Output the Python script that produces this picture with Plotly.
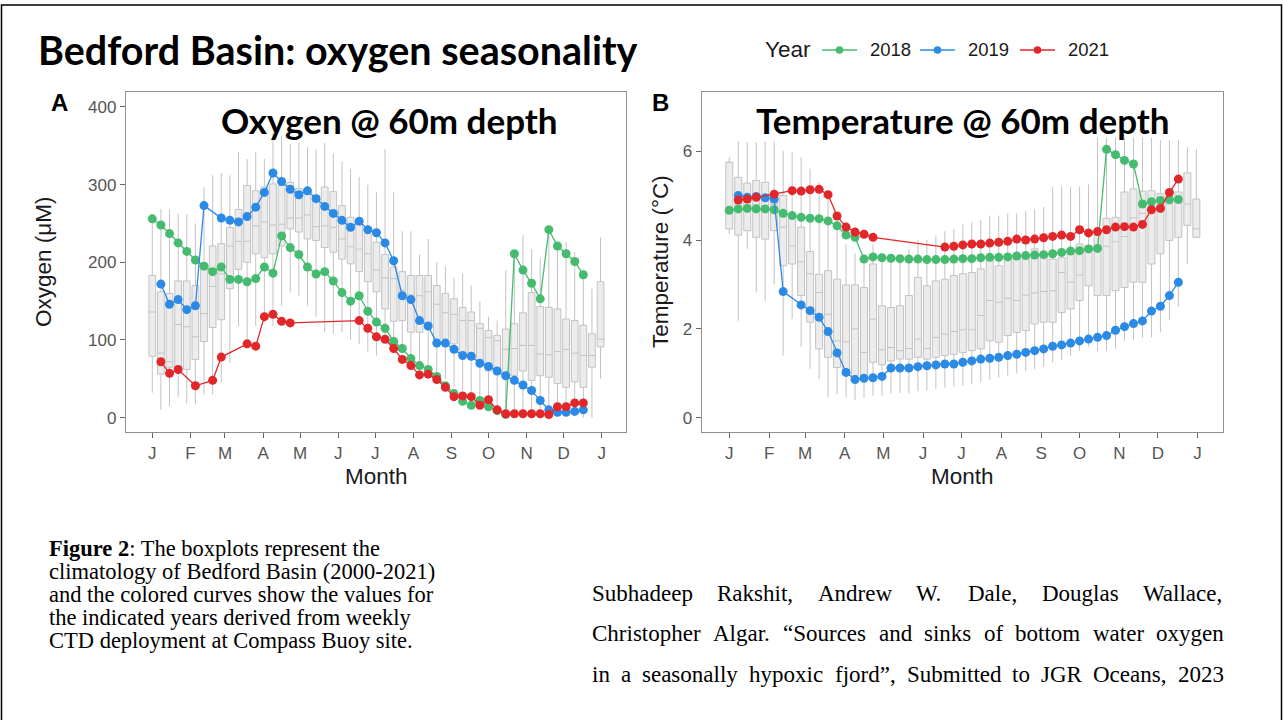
import plotly.graph_objects as go

W, H = 1283, 720

# ---------------- data ----------------
weeks = list(range(53))
series_weeks = list(range(51))
month_ticks = [0, 4.43, 8.43, 12.86, 17.14, 21.57, 25.86, 30.29, 34.71, 39.0, 43.43, 47.71, 52.14]
month_labels = ["J", "F", "M", "A", "M", "J", "J", "A", "S", "O", "N", "D", "J"]
years = ["2018", "2019", "2021"]
year_colors = ["#45bb6f", "#2b8ae6", "#e2272b"]

# Panel A: oxygen (uM), weekly climatology boxes (weeks 0..52)
ox_lo = [32, 10, 15, 27, 18, 17, 30, 30, 45, 71, 118, 101, 118, 123, 118, 144, 161, 157, 144, 130,
         110, 108, 110, 100, 95, 85, 80, 100, 95, 85, 75, 60, 55, 50, 50, 40, 35, 30, 25, 20,
         15, 5, 5, 5, 3, 3, 2, 2, 2, 2, 0, 0, 50]
ox_q1 = [79, 56, 65, 63, 62, 75, 98, 116, 126, 166, 191, 200, 211, 206, 211, 221, 243, 239, 230, 228,
         219, 213, 204, 198, 188, 175, 162, 140, 124, 125, 110, 110, 115, 95, 100, 95, 82, 80, 71, 60,
         60, 54, 54, 60, 48, 54, 52, 44, 39, 46, 39, 65, 91]
ox_med = [136, 83, 72, 120, 117, 104, 134, 169, 185, 221, 227, 227, 247, 252, 248, 249, 257, 257, 261, 246,
          247, 245, 230, 220, 217, 211, 190, 180, 179, 164, 158, 157, 162, 146, 135, 133, 125, 125, 115, 103,
          99, 88, 89, 93, 93, 82, 81, 85, 88, 83, 80, 80, 101]
ox_q3 = [183, 162, 160, 176, 176, 170, 199, 221, 224, 245, 268, 299, 292, 297, 301, 299, 303, 295, 290, 286,
         297, 291, 273, 258, 256, 237, 226, 210, 194, 188, 183, 183, 183, 170, 160, 153, 142, 136, 121, 112,
         106, 114, 121, 135, 161, 143, 142, 140, 127, 125, 119, 108, 175]
ox_hi = [255, 269, 268, 263, 262, 250, 297, 312, 315, 312, 342, 333, 342, 333, 367, 363, 352, 354, 348, 345,
         354, 340, 330, 320, 310, 300, 290, 346, 290, 240, 240, 210, 230, 200, 195, 180, 185, 170, 150, 130,
         125, 190, 210, 235, 217, 205, 240, 226, 226, 213, 185, 166, 232]

ox_2018 = [256, 248, 237, 225, 214, 203, 195, 188, 194, 178, 178, 175, 179, 194, 186, 234, 219, 210, 194, 185,
           188, 176, 161, 150, 157, 137, 123, 115, 98, 89, 76, 67, 62, 53, 41, 31, 21, 16, 22, 14,
           9, 4, 211, 190, 173, 153, 242, 221, 211, 201, 184]
ox_2019 = [None, 172, 146, 152, 139, 144, 273, None, 257, 254, 252, 259, 271, 290, 315, 304, 294, 287, 292, 282,
           272, 263, 254, 245, 253, 242, 238, 225, 202, 157, 152, 125, 118, 96, 96, 88, 80, 79, 70, 66,
           60, 54, 48, 42, 35, 22, 10, 7, 7, 8, 10]
ox_2021 = [None, 72, 57, 62, None, 41, None, 48, 78, None, None, 95, 92, 130, 133, 124, 122, None, None, None,
           None, None, None, None, 125, 115, 104, 101, 89, 75, 67, 55, 56, 49, 39, 27, 28, 27, 16, 23,
           10, 5, 5, 5, 5, 5, 4, 14, 14, 19, 19]

# Panel B: temperature (deg C)
tp_lo = [4.14, 2.18, 3.80, 2.82, 2.63, 3.00, 1.40, 2.22, 1.60, 1.10, 0.87, 0.46, 0.53, 0.45, 0.40, 0.45, 0.50, 0.50, 0.55, 0.55,
         0.55, 0.60, 0.62, 0.65, 0.68, 0.70, 0.72, 0.75, 0.80, 0.85, 0.90, 0.95, 1.00, 1.05, 1.10, 1.15, 1.25, 1.30, 1.40, 1.50,
         1.60, 1.50, 1.50, 1.55, 1.73, 1.75, 1.80, 1.81, 1.92, 2.20, 2.50, 3.46, 4.06]
tp_q1 = [4.25, 4.11, 4.21, 4.06, 4.02, 4.21, 3.42, 3.46, 2.75, 2.15, 1.55, 1.36, 1.13, 1.06, 0.95, 0.87, 1.25, 1.19, 1.28, 1.32,
         1.32, 1.36, 1.32, 1.36, 1.40, 1.43, 1.47, 1.51, 1.55, 1.73, 1.70, 1.85, 1.92, 1.96, 2.11, 2.15, 2.15, 2.37, 2.45, 2.64,
         2.97, 2.75, 2.75, 2.86, 2.93, 3.05, 3.05, 3.46, 3.69, 3.99, 4.06, 4.33, 4.06]
tp_med = [4.70, 4.95, 4.85, 4.80, 4.95, 4.80, 4.29, 3.87, 3.51, 3.24, 2.82, 2.33, 1.73, 1.71, 2.00, 1.47, 2.22, 1.53, 1.58, 1.51,
          1.56, 1.77, 1.56, 1.81, 1.88, 1.94, 1.98, 1.98, 2.30, 2.64, 2.60, 2.69, 2.64, 2.76, 2.81, 2.84, 2.86, 3.27, 3.05, 3.21,
          3.80, 3.84, 3.86, 3.96, 4.08, 4.50, 4.60, 4.85, 4.74, 4.81, 4.85, 4.81, 4.25]
tp_q3 = [5.75, 5.41, 5.28, 5.34, 5.30, 5.07, 5.00, 4.51, 4.29, 3.74, 3.23, 3.31, 3.12, 2.99, 2.99, 2.93, 3.46, 2.52, 2.48, 2.52,
         2.75, 3.16, 2.97, 3.08, 3.12, 3.20, 3.24, 3.27, 3.35, 3.54, 3.42, 3.61, 3.65, 3.65, 3.80, 3.69, 3.57, 3.61, 3.80, 3.91,
         3.87, 4.10, 4.49, 4.51, 5.08, 5.15, 5.10, 5.11, 5.04, 5.00, 5.08, 5.51, 4.92]
tp_hi = [5.86, 6.22, 6.20, 6.20, 6.22, 6.22, 6.01, 5.97, 5.86, 5.60, 5.30, 5.11, 4.30, 3.90, 3.70, 3.60, 3.90, 3.70, 3.60, 3.65,
         3.80, 4.00, 4.00, 4.10, 4.20, 4.25, 4.35, 4.40, 4.45, 4.55, 4.55, 4.60, 4.60, 4.65, 4.70, 4.75, 5.20, 5.20, 5.20, 5.20,
         5.25, 6.30, 6.30, 6.30, 6.30, 6.30, 6.30, 6.30, 6.25, 6.25, 6.25, 6.09, 6.05]

tp_2018 = [4.67, 4.70, 4.71, 4.70, 4.70, 4.68, 4.60, 4.55, 4.51, 4.49, 4.48, 4.43, 4.32, 4.11, 4.06, 3.57, 3.62, 3.60, 3.59, 3.58,
           3.57, 3.57, 3.56, 3.56, 3.56, 3.57, 3.58, 3.58, 3.60, 3.61, 3.61, 3.62, 3.64, 3.65, 3.66, 3.67, 3.69, 3.72, 3.75, 3.76,
           3.80, 3.81, 6.04, 5.92, 5.79, 5.71, 4.81, 4.86, 4.89, 4.91, 4.91]
tp_2019 = [None, 5.00, 4.96, 4.98, 4.95, 4.92, 2.84, None, 2.54, 2.41, 2.26, 1.94, 1.46, 1.02, 0.86, 0.89, 0.90, 0.93, 1.12, 1.12,
           1.12, 1.15, 1.17, 1.19, 1.21, 1.21, 1.25, 1.28, 1.32, 1.34, 1.36, 1.40, 1.43, 1.47, 1.51, 1.55, 1.61, 1.64, 1.68, 1.73,
           1.77, 1.81, 1.85, 1.97, 2.05, 2.12, 2.18, 2.40, 2.51, 2.75, 3.05]
tp_2021 = [None, 4.90, 4.92, 4.96, None, 5.03, None, 5.11, 5.10, 5.13, 5.14, 5.02, 4.54, 4.29, 4.18, 4.13, 4.06, None, None, None,
           None, None, None, None, 3.84, 3.86, 3.89, 3.91, 3.91, 3.93, 3.95, 3.97, 4.02, 4.00, 4.02, 4.05, 4.08, 4.11, 4.08, 4.23,
           4.16, 4.19, 4.23, 4.29, 4.30, 4.29, 4.35, 4.68, 4.71, 5.07, 5.37]

ox_tick_vals = [0, 100, 200, 300, 400]
tp_tick_vals = [0, 2, 4, 6]

caption_lines = [
    "<b>Figure 2</b>: The boxplots represent the",
    "climatology of Bedford Basin (2000-2021)",
    "and the colored curves show the values for",
    "the indicated years derived from weekly",
    "CTD deployment at Compass Buoy site.",
]
citation_lines = [
    "Subhadeep Rakshit, Andrew W. Dale, Douglas Wallace,",
    "Christopher Algar. \u201cSources and sinks of bottom water oxygen",
    "in a seasonally hypoxic fjord\u201d, Submitted to JGR Oceans, 2023",
]

# ---------------- helpers ----------------
def px(x):
    return x / W


def py(y):
    return 1 - y / H


SANS = "Liberation Sans, Arial, sans-serif"
SERIF = "Liberation Serif, Times New Roman, serif"
HEAD = "Lato, Open Sans, sans-serif"

# Times New Roman advance widths (1/1000 em) for justification
TIMES = {' ': 250, ',': 250, '.': 250, '\u201c': 444, '\u201d': 444, '-': 333, ':': 278, '(': 333, ')': 333}
for ch, w in zip("abcdefghijklmnopqrstuvwxyz",
                 [444, 500, 444, 500, 444, 333, 500, 500, 278, 278, 500, 278, 778, 500, 500, 500, 500, 333, 389, 278,
                  500, 500, 722, 500, 500, 444]):
    TIMES[ch] = w
for ch, w in zip("ABCDEFGHIJKLMNOPQRSTUVWXYZ",
                 [722, 667, 667, 722, 611, 556, 722, 722, 333, 389, 722, 611, 889, 722, 722, 556, 722, 667, 556, 611,
                  722, 722, 944, 722, 722, 611]):
    TIMES[ch] = w
for ch in "0123456789":
    TIMES[ch] = 500


def tw(s, size):
    return sum(TIMES.get(c, 500) for c in s) / 1000.0 * size


fig = go.Figure()

# ---------------- boxes ----------------
box_style = dict(fillcolor="#ececec", line=dict(color="#c3c3c3", width=1), whiskerwidth=0,
                 boxpoints=False, width=0.78, showlegend=False, hoverinfo="skip")
fig.add_trace(go.Box(x=weeks, q1=ox_q1, median=ox_med, q3=ox_q3, lowerfence=ox_lo, upperfence=ox_hi,
                     xaxis="x", yaxis="y", **box_style))
fig.add_trace(go.Box(x=weeks, q1=tp_q1, median=tp_med, q3=tp_q3, lowerfence=tp_lo, upperfence=tp_hi,
                     xaxis="x2", yaxis="y2", **box_style))

# ---------------- year curves ----------------
for yr, col, oy, ty in zip(years, year_colors, [ox_2018, ox_2019, ox_2021], [tp_2018, tp_2019, tp_2021]):
    fig.add_trace(go.Scatter(x=series_weeks, y=oy, mode="lines+markers", connectgaps=True,
                             line=dict(color=col, width=1.3), marker=dict(size=9, color=col),
                             xaxis="x", yaxis="y", showlegend=False, name=yr))
    fig.add_trace(go.Scatter(x=series_weeks, y=ty, mode="lines+markers", connectgaps=True,
                             line=dict(color=col, width=1.3), marker=dict(size=9, color=col),
                             xaxis="x2", yaxis="y2", showlegend=False, name=yr))

axis_common = dict(showgrid=False, zeroline=False, showline=True, mirror=True, linecolor="#8f8f8f",
                   linewidth=1.3, ticks="outside", ticklen=5, tickwidth=1.3, tickcolor="#666666",
                   tickfont=dict(family=SANS, size=17, color="#555555"))

fig.update_layout(
    width=W, height=H, autosize=False,
    margin=dict(l=0, r=0, t=0, b=0),
    paper_bgcolor="white", plot_bgcolor="white",
    xaxis=dict(domain=[px(126), px(626)], range=[-3.05, 54.95], tickvals=month_ticks, ticktext=month_labels,
               anchor="y", **axis_common),
    yaxis=dict(domain=[py(432), py(92)], range=[-18.5, 419.3], tickvals=ox_tick_vals, anchor="x", **axis_common),
    xaxis2=dict(domain=[px(701.7), px(1223.3)], range=[-3.07, 55.0], tickvals=month_ticks, ticktext=month_labels,
                anchor="y2", **axis_common),
    yaxis2=dict(domain=[py(432), py(92)], range=[-0.32, 7.33], tickvals=tp_tick_vals, anchor="x2", **axis_common),
)

ann = []
shapes = []


def text(x, y, s, size, family=SANS, color="#000000", xanchor="left", angle=0, yanchor="middle"):
    ann.append(dict(x=px(x), y=py(y), xref="paper", yref="paper", text=s, showarrow=False,
                    xanchor=xanchor, yanchor=yanchor, textangle=angle,
                    font=dict(family=family, size=size, color=color)))


# slide title and panel titles
text(36, 50, "<b>Bedford Basin: oxygen seasonality</b>", 39.5, HEAD)
text(389, 120, "<b>Oxygen @ 60m depth</b>", 35, HEAD, xanchor="center")
text(963, 120, "<b>Temperature @ 60m depth</b>", 35, HEAD, xanchor="center")

# panel tags
text(59, 103, "<b>A</b>", 24, SANS, xanchor="center")
text(660, 103, "<b>B</b>", 24, SANS, xanchor="center")

# axis titles
text(43, 262, "Oxygen (\u03bcM)", 22.5, SANS, color="#1a1a1a", xanchor="center", angle=-90)
text(660, 262, "Temperature (\u00b0C)", 22.5, SANS, color="#1a1a1a", xanchor="center", angle=-90)
text(376, 476, "Month", 22.5, SANS, color="#1a1a1a", xanchor="center")
text(962.5, 476, "Month", 22.5, SANS, color="#1a1a1a", xanchor="center")

# legend (manual, ggplot style)
text(763, 50, "Year", 22.5, SANS, color="#1a1a1a")
for yr, col, x0 in zip(years, year_colors, [822, 920, 1020]):
    shapes.append(dict(type="line", xref="paper", yref="paper", x0=px(x0), x1=px(x0 + 35), y0=py(50), y1=py(50),
                       line=dict(color=col, width=1.5)))
    cx = x0 + 17.5
    r = 3.8
    shapes.append(dict(type="circle", xref="paper", yref="paper", x0=px(cx - r), x1=px(cx + r),
                       y0=py(50 + r), y1=py(50 - r), fillcolor=col, line=dict(color=col, width=0)))
    text(x0 + 46, 50, yr, 18.5, SANS, color="#1a1a1a")

# caption (left)
for i, line in enumerate(caption_lines):
    text(47, 548 + i * 23.2, line, 22.5, SERIF)

# citation (right, justified)
cite_size = 23
left, right = 590, 1222
for i, line in enumerate(citation_lines):
    words = line.split(" ")
    widths = [tw(wd, cite_size) for wd in words]
    gap = (right - left - sum(widths)) / (len(words) - 1)
    x = left
    for wd, wdw in zip(words, widths):
        text(x, 593 + i * 40.5, wd, cite_size, SERIF)
        x += wdw + gap

# slide border
shapes.append(dict(type="rect", xref="paper", yref="paper", x0=px(1.5), x1=px(1281.5), y0=py(724), y1=py(5),
                   line=dict(color="#000000", width=1.5), fillcolor="rgba(0,0,0,0)"))

fig.update_layout(annotations=ann, shapes=shapes)
fig.write_html("out.html", config={"displayModeBar": False},
               post_script="document.body.style.margin='0';document.body.style.overflow='hidden';")
